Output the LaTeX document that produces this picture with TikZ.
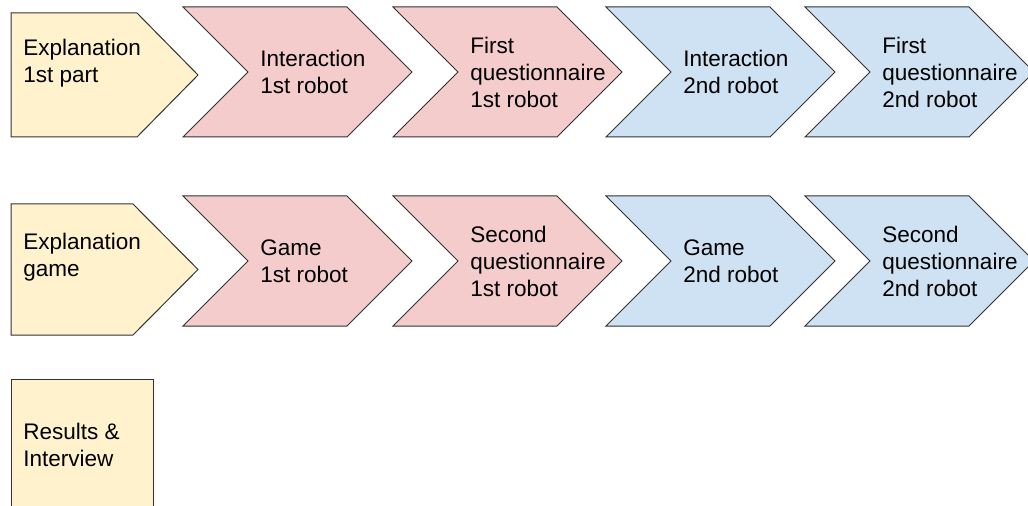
\documentclass[tikz,border=0pt]{standalone}
\usepackage{fontspec}
\setmainfont{Liberation Sans}
\usepackage{tikz}
\definecolor{yellowfill}{HTML}{FFF2CC}
\definecolor{pinkfill}{HTML}{F4CCCC}
\definecolor{bluefill}{HTML}{CFE2F3}
\tikzset{steptext/.style={anchor=west, align=left, inner sep=0pt, font=\fontsize{16.9}{20.25}\selectfont},
         stepline/.style={draw=black!80, line width=0.75pt, line join=miter}}
% first box of a row: top, height, end of flat part, name, text
\newcommand{\headp}[5]{\filldraw[fill=yellowfill, stepline] (11,#1) -- (#3,#1) -- (198,{#1+#2/2}) -- (#3,{#1+#2}) -- (11,{#1+#2}) -- cycle; \node[steptext] (#4) at (23,{#1+#2/2-12}) {#5};}
% chevron: left, top, fill, name, text
\newcommand{\chev}[5]{\filldraw[fill=#3, stepline] (#1,#2) -- ++(164,0) -- ++(65,65) -- ++(-65,65) -- ++(-164,0) -- ++(65,-65) -- cycle; \node[steptext] (#4) at (#1+77,#2+65) {#5};}

\begin{document}
\begin{tikzpicture}[x=0.75pt, y=-0.75pt]
        \fill[white] (0,0) rectangle (1028,506);
        \useasboundingbox (0,0) rectangle (1028,506);
        % row 1
        \headp{13}{124}{137}{expl1}{Explanation\\1st part}
        \chev{183}{7}{pinkfill}{inter1}{Interaction\\1st robot}
        \chev{393}{7}{pinkfill}{quest1}{First\\questionnaire\\1st robot}
        \chev{606}{7}{bluefill}{inter2}{Interaction\\2nd robot}
        \chev{805}{7}{bluefill}{quest2}{First\\questionnaire\\2nd robot}
        % row 2
        \headp{204}{131}{133}{expl2}{Explanation\\game}
        \chev{183}{196}{pinkfill}{game1}{Game\\1st robot}
        \chev{393}{196}{pinkfill}{squest1}{Second\\questionnaire\\1st robot}
        \chev{606}{196}{bluefill}{game2}{Game\\2nd robot}
        \chev{805}{196}{bluefill}{squest2}{Second\\questionnaire\\2nd robot}
        % row 3
        \filldraw[fill=yellowfill, stepline] (11,506) -- (11,379) -- (153,379) -- (153,506);
        \node[steptext] (results) at (23,445) {Results \&\\Interview};
\end{tikzpicture}
\end{document}
